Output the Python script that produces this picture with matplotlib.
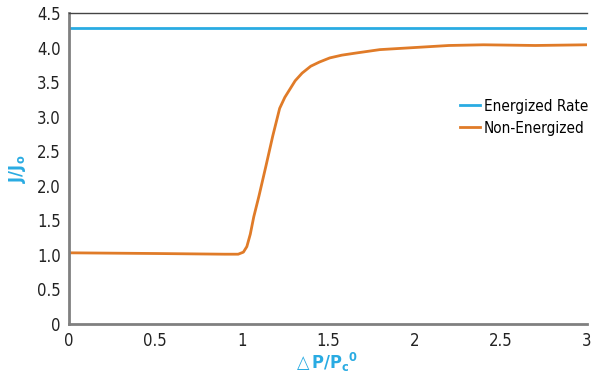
import matplotlib
matplotlib.use("Agg")
import matplotlib.pyplot as plt

x_vals = [0.0, 0.5, 0.9, 0.98, 1.01, 1.03, 1.05, 1.07, 1.10, 1.14, 1.18, 1.22, 1.25, 1.28, 1.31, 1.35, 1.40, 1.45, 1.51, 1.58, 1.66, 1.8, 2.0, 2.2, 2.4, 2.7, 3.0]
non_energized = [1.03, 1.02, 1.01, 1.01, 1.04, 1.12, 1.30, 1.55, 1.85, 2.28, 2.72, 3.12, 3.28, 3.40, 3.52, 3.63, 3.73, 3.79, 3.85, 3.89, 3.92, 3.97, 4.00, 4.03, 4.04, 4.03, 4.04]
energized_rate = 4.29
x_ticks = [0, 0.5, 1, 1.5, 2, 2.5, 3]
x_tick_labels = ["0", "0.5", "1", "1.5", "2", "2.5", "3"]
y_ticks = [0, 0.5, 1.0, 1.5, 2.0, 2.5, 3.0, 3.5, 4.0, 4.5]
y_tick_labels = ["0", "0.5", "1.0", "1.5", "2.0", "2.5", "3.0", "3.5", "4.0", "4.5"]

plt.rcParams['font.family'] = ['DejaVu Sans']
plt.rcParams['font.stretch'] = 'condensed'
plt.rcParams['mathtext.fontset'] = 'dejavusans'

blue = '#29abe2'
orange = '#e07b28'

fig = plt.figure(figsize=(6.0, 3.79), dpi=100)
ax = fig.add_axes([69/600, 1-324/379, 518/600, 311/379])

ax.plot([0, 3], [energized_rate, energized_rate], color=blue, lw=2, label='Energized Rate')
ax.plot(x_vals, non_energized, color=orange, lw=2, label='Non-Energized', solid_joinstyle='round')

ax.set_xlim(0, 3)
ax.set_ylim(0, 4.5)
ax.set_xticks(x_ticks)
ax.set_xticklabels(x_tick_labels)
ax.set_yticks(y_ticks)
ax.set_yticklabels(y_tick_labels)
ax.tick_params(length=0, labelsize=12, colors='#222222', pad=6)

for s in ['left', 'bottom']:
    ax.spines[s].set_color('#808080')
    ax.spines[s].set_linewidth(2)
ax.spines['top'].set_color('#444444')
ax.spines['top'].set_linewidth(1)
ax.spines['right'].set_visible(False)

ax.set_xlabel(r'$\triangle$' + r'$\mathbf{P/P_c{}^0}$', color=blue, fontsize=13)
ax.xaxis.set_label_coords(0.495, -0.085)
ax.set_ylabel(r'$\mathbf{J/J_o}$', color=blue, fontsize=13)
ax.yaxis.set_label_coords(-0.08, 0.5)

leg = ax.legend(loc='upper left', bbox_to_anchor=(0.755, 0.724), frameon=False,
                fontsize=11, handlelength=1.3, handletextpad=0.25, labelspacing=0.45,
                borderaxespad=0, borderpad=0)

fig.savefig('out.png', dpi=100)
